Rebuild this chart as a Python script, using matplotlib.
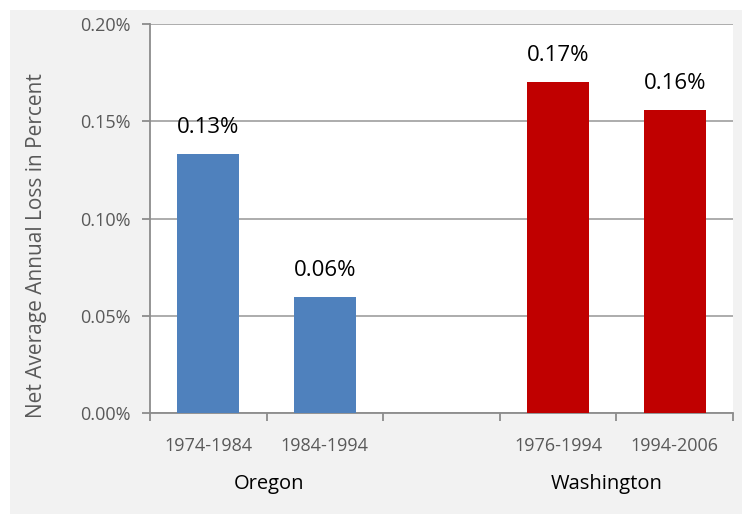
import matplotlib
matplotlib.use("Agg")
import matplotlib.pyplot as plt
from matplotlib.patches import Rectangle
from matplotlib.ticker import FuncFormatter, FixedLocator
from matplotlib.transforms import blended_transform_factory

plt.rcParams["font.family"] = ["Open Sans", "DejaVu Sans"]

# Net average annual loss (percent), by period
periods = ["1974-1984", "1984-1994", "", "1976-1994", "1994-2006"]
loss_pct = [0.133, 0.0596, None, 0.170, 0.1558]
bar_colors = ["#4f81bd", "#4f81bd", None, "#c00000", "#c00000"]
groups = ["Oregon", "Washington"]
group_pos = [0.52, 3.42]
yticks = [0.00, 0.05, 0.10, 0.15, 0.20]

W, H = 742, 514
fig = plt.figure(figsize=(W / 100, H / 100), dpi=100)
fig.patches.append(Rectangle((10 / W, 0), 1 - 10 / W, 1 - 10 / H,
                             transform=fig.transFigure, facecolor="#f2f2f2",
                             edgecolor="none", zorder=-10))

ax = fig.add_axes([150 / W, 101 / H, 583 / W, 389 / H])
ax.set_facecolor("white")

for i, (v, c) in enumerate(zip(loss_pct, bar_colors)):
    if v is None:
        continue
    ax.bar(i, v, width=0.53, color=c, zorder=3)
    ax.annotate(f"{v:.2f}%", (i, v), xytext=(0, 19), textcoords="offset points",
                ha="center", va="center", fontsize=16, color="black")

ax.set_xlim(-0.5, 4.5)
ax.set_ylim(0, 0.20)
ax.set_yticks(yticks)
ax.yaxis.set_major_formatter(FuncFormatter(lambda y, _: f"{y:.2f}%"))
ax.grid(axis="y", color="#a6a6a6", linewidth=1.3, zorder=0)

# category labels without tick marks; tick marks sit between categories
ax.set_xticks(range(len(periods)))
ax.set_xticklabels(periods)
ax.xaxis.set_minor_locator(FixedLocator([x - 0.5 for x in range(len(periods) + 1)]))
ax.tick_params(axis="x", which="major", length=0, pad=17, labelsize=13, labelcolor="#595959")
ax.tick_params(axis="x", which="minor", length=6, width=1.3, color="#8c8c8c", direction="out")
ax.tick_params(axis="y", length=6, width=1.3, color="#8c8c8c", pad=8,
               labelsize=13, labelcolor="#595959")

for s in ["top", "right"]:
    ax.spines[s].set_visible(False)
for s in ["left", "bottom"]:
    ax.spines[s].set_color("#8c8c8c")
    ax.spines[s].set_linewidth(1.3)

trans = blended_transform_factory(ax.transData, fig.transFigure)
for name, x in zip(groups, group_pos):
    ax.text(x, 1 - 484 / H, name, transform=trans, ha="center", va="center",
            fontsize=14.5, color="black")

fig.text(37 / W, 1 - 246 / H, "Net Average Annual Loss in Percent", rotation=90,
         ha="center", va="center", fontsize=15, color="#595959")

fig.savefig("out.png", dpi=100)
